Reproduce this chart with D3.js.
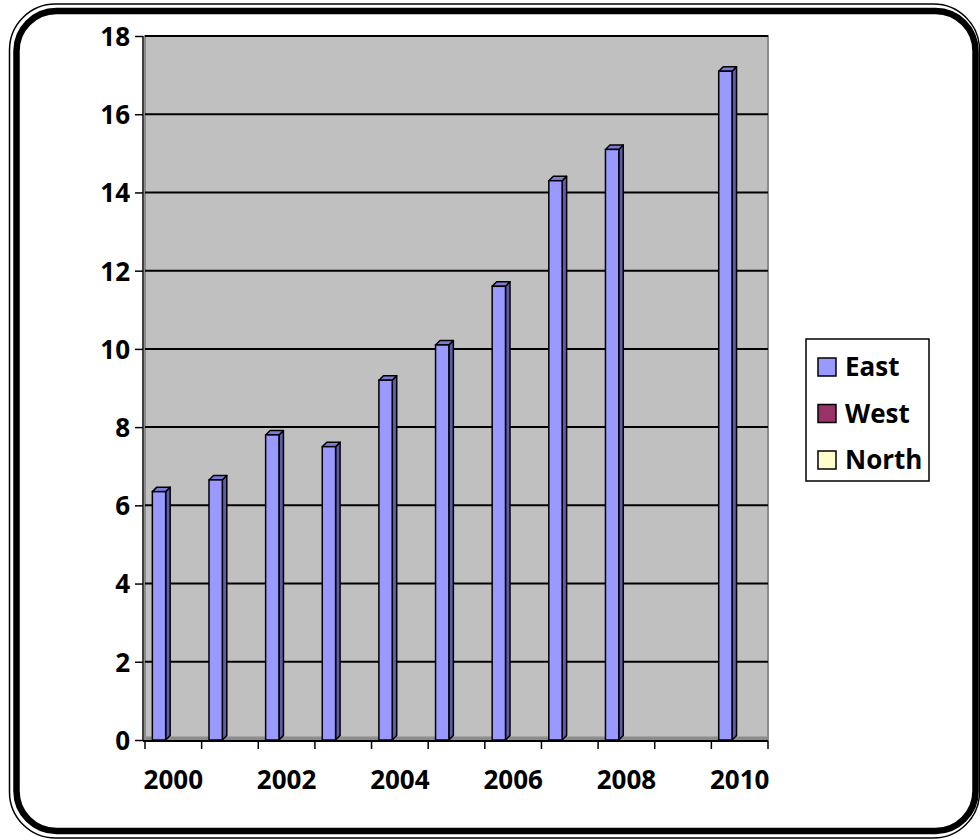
<!DOCTYPE html>
<html>
<head>
<meta charset="utf-8">
<script src="https://cdn.jsdelivr.net/npm/d3@7"></script>
<style>
  body { margin: 0; background: #fff; }
  text { font-family: "Open Sans", "Noto Sans", sans-serif; font-weight: bold; fill: #000; }
</style>
</head>
<body>
<svg width="980" height="840"></svg>
<script>
// data
var years = ["2000","2001","2002","2003","2004","2005","2006","2007","2008","2009","2010"];
var series = ["East", "West", "North"];
var east  = [6.35, 6.65, 7.8, 7.5, 9.2, 10.1, 11.6, 14.3, 15.1, null, 17.1];
var west  = [null, null, null, null, null, null, null, null, null, null, null];
var north = [null, null, null, null, null, null, null, null, null, null, null];
var yTicks = [0, 2, 4, 6, 8, 10, 12, 14, 16, 18];
var xLabels = ["2000", "2002", "2004", "2006", "2008", "2010"];

var colors = { East: "#9999ff", West: "#993366", North: "#ffffcc" };
var sides  = { East: "#5c5ca8", West: "#5c1f3d", North: "#99997a" };
var tops   = { East: "#7b7bd6", West: "#7a2952", North: "#ccccA3" };
var values = { East: east, West: west, North: north };

var svg = d3.select("svg");

// frame, double line with rounded corners
svg.append("rect")
    .attr("x", 9.5).attr("y", 4).attr("width", 970).attr("height", 834)
    .attr("rx", 46).attr("fill", "none").attr("stroke", "#000").attr("stroke-width", 1.5);
svg.append("rect")
    .attr("x", 16.5).attr("y", 11).attr("width", 959).attr("height", 820)
    .attr("rx", 40).attr("fill", "#fff").attr("stroke", "#000").attr("stroke-width", 6.5);

var x = d3.scaleBand().domain(years).range([145, 768]).padding(0);
var y = d3.scaleLinear().domain([0, 18]).range([740, 36]);
var bw = x.bandwidth();
var s = d3.scaleBand().domain(series).range([bw * 0.13, bw * 0.13 + bw * 0.705]);
var depth = 4.5;

// back wall
svg.append("rect")
    .attr("x", x.range()[0]).attr("y", y(18))
    .attr("width", x.range()[1] - x.range()[0]).attr("height", y(0) - y(18))
    .attr("fill", "#c0c0c0").attr("stroke", "#8c8c8c").attr("stroke-width", 2);

// gridlines
svg.append("g").selectAll("line")
  .data(yTicks.filter(function(d) { return d > 0; }))
  .enter().append("line")
    .attr("x1", x.range()[0]).attr("x2", x.range()[1])
    .attr("y1", function(d) { return y(d); }).attr("y2", function(d) { return y(d); })
    .attr("stroke", "#000").attr("stroke-width", 2);

// floor edge
svg.append("line")
    .attr("x1", x.range()[0]).attr("x2", x.range()[1])
    .attr("y1", y(0) - 2).attr("y2", y(0) - 2)
    .attr("stroke", "#8c8c8c").attr("stroke-width", 3);

// bars
var bars = [];
series.forEach(function(name) {
  values[name].forEach(function(v, i) {
    if (v != null) bars.push({ name: name, year: years[i], value: v });
  });
});

var g = svg.append("g").selectAll("g").data(bars).enter().append("g");
g.each(function(d) {
  var el = d3.select(this);
  var x0 = x(d.year) + s(d.name), w = s.bandwidth();
  var y0 = y(d.value), yb = y(0);
  el.append("path")
    .attr("d", "M" + (x0 + w) + "," + y0 + "L" + (x0 + w + depth) + "," + (y0 - depth) +
               "L" + (x0 + w + depth) + "," + (yb - depth) + "L" + (x0 + w) + "," + yb + "Z")
    .attr("fill", sides[d.name]).attr("stroke", "#000").attr("stroke-width", 1.5).attr("stroke-linejoin", "round");
  el.append("path")
    .attr("d", "M" + x0 + "," + y0 + "L" + (x0 + depth) + "," + (y0 - depth) +
               "L" + (x0 + w + depth) + "," + (y0 - depth) + "L" + (x0 + w) + "," + y0 + "Z")
    .attr("fill", tops[d.name]).attr("stroke", "#000").attr("stroke-width", 1.5).attr("stroke-linejoin", "round");
  el.append("rect")
    .attr("x", x0).attr("y", y0).attr("width", w).attr("height", yb - y0)
    .attr("fill", colors[d.name]).attr("stroke", "#000").attr("stroke-width", 1.5);
});

// y axis
var yAxis = svg.append("g").attr("transform", "translate(143,0)")
    .call(d3.axisLeft(y).tickValues(yTicks).tickSize(8).tickPadding(5));
yAxis.select(".domain").attr("stroke", "#000").attr("stroke-width", 1.5).attr("d", "M0," + y(18) + "V" + (y(0) + 1));
yAxis.selectAll(".tick line").attr("stroke", "#000").attr("stroke-width", 1.5);
yAxis.selectAll(".tick text").attr("font-size", 26).attr("font-family", null).attr("dy", "0.36em");

// x axis
var xAxis = svg.append("g").attr("transform", "translate(0," + (y(0) + 1) + ")")
    .call(d3.axisBottom(x).tickValues(xLabels).tickSize(0).tickPadding(39));
xAxis.select(".domain").attr("stroke", "#000").attr("stroke-width", 2).attr("d", "M143,0H" + x.range()[1]);
xAxis.selectAll(".tick text").attr("font-size", 26).attr("font-family", null).attr("dy", "0.36em");
xAxis.selectAll(".tick line").remove();
xAxis.append("g").selectAll("line")
  .data(years.map(function(d) { return x(d); }).concat([x.range()[1]]))
  .enter().append("line")
    .attr("x1", function(d) { return d; }).attr("x2", function(d) { return d; })
    .attr("y1", 0).attr("y2", 8)
    .attr("stroke", "#000").attr("stroke-width", 1.5);

// legend
var legend = svg.append("g").attr("transform", "translate(806,339)");
legend.append("rect")
    .attr("width", 123).attr("height", 142)
    .attr("fill", "#fff").attr("stroke", "#000").attr("stroke-width", 1.5);
var ly = d3.scalePoint().domain(series).range([28, 121]);
var item = legend.selectAll("g.item").data(series).enter().append("g")
    .attr("class", "item")
    .attr("transform", function(d) { return "translate(0," + ly(d) + ")"; });
item.append("rect")
    .attr("x", 12).attr("y", -9).attr("width", 18).attr("height", 18)
    .attr("fill", function(d) { return colors[d]; })
    .attr("stroke", "#000").attr("stroke-width", 1.5);
item.append("text")
    .attr("x", 39).attr("dy", "0.36em").attr("font-size", 26)
    .text(function(d) { return d; });
</script>
</body>
</html>
